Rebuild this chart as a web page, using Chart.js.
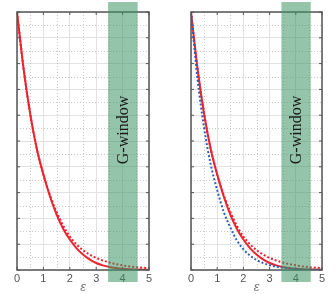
<!DOCTYPE html>
<html>
<head>
<meta charset="utf-8">
<script src="https://cdn.jsdelivr.net/npm/chart.js@4"></script>
<style>
  html, body { margin: 0; padding: 0; background: #fff; }
  #wrap { position: relative; width: 336px; height: 294px; overflow: hidden; }
  canvas { position: absolute; top: 0; }
</style>
</head>
<body>
<div id="wrap">
  <canvas id="leftChart" width="168" height="294" style="left:0"></canvas>
  <canvas id="rightChart" width="168" height="294" style="left:168px"></canvas>
</div>
<script>
// curves, x = epsilon
const eps        = [0, 0.25, 0.5, 0.75, 1, 1.25, 1.5, 1.75, 2, 2.25, 2.5, 2.75, 3, 3.25, 3.5, 3.75, 4, 4.25, 4.5, 4.75, 5];
const redSolid   = [1, 0.78, 0.605, 0.47, 0.37, 0.285, 0.215, 0.16, 0.118, 0.085, 0.06, 0.041, 0.027, 0.018, 0.012, 0.008, 0.005, 0.003, 0.002, 0.001, 0.001];
const redDotted  = [1, 0.78, 0.605, 0.47, 0.37, 0.29, 0.225, 0.172, 0.13, 0.1, 0.077, 0.06, 0.047, 0.037, 0.029, 0.023, 0.018, 0.014, 0.011, 0.009, 0.007];
const blueDotted = [1, 0.74, 0.55, 0.41, 0.31, 0.225, 0.165, 0.115, 0.08, 0.056, 0.039, 0.027, 0.019, 0.013, 0.009, 0.006, 0.004, 0.003, 0.002, 0.001, 0.001];

// shaded window
const bandStart = 3.45;
const bandEnd = 4.57;
const bandLabel = "G-window";
const xTitle = "ε";

Chart.defaults.font.family = "'Liberation Sans', Arial, sans-serif";

const RED = "rgb(236, 36, 48)";
const BLUE = "rgb(44, 96, 184)";

function toPoints(ys) {
  return eps.map((x, i) => ({ x: x, y: ys[i] }));
}

// minor dotted grid, green window, frame with inward ticks
const decorPlugin = {
  id: "decor",
  beforeDatasetsDraw(chart) {
    const ctx = chart.ctx;
    const a = chart.chartArea;
    const xs = chart.scales.x, ys = chart.scales.y;
    ctx.save();
    ctx.strokeStyle = "#cacaca";
    ctx.lineWidth = 1;
    ctx.setLineDash([1, 2]);
    for (let v = 0.5; v < 5; v += 1) {
      const px = Math.round(xs.getPixelForValue(v)) + 0.5;
      ctx.beginPath(); ctx.moveTo(px, a.top); ctx.lineTo(px, a.bottom); ctx.stroke();
    }
    for (let v = 0.05; v < 1; v += 0.1) {
      const py = Math.round(ys.getPixelForValue(v)) + 0.5;
      ctx.beginPath(); ctx.moveTo(a.left, py); ctx.lineTo(a.right, py); ctx.stroke();
    }
    ctx.restore();
  },
  afterDatasetsDraw(chart) {
    const ctx = chart.ctx;
    const a = chart.chartArea;
    const xs = chart.scales.x, ys = chart.scales.y;
    ctx.save();
    // frame
    ctx.strokeStyle = "#555";
    ctx.lineWidth = 1.5;
    ctx.strokeRect(a.left, a.top, a.right - a.left, a.bottom - a.top);
    // inward ticks
    ctx.lineWidth = 1;
    for (let v = 0; v <= 5; v++) {
      const px = xs.getPixelForValue(v);
      ctx.beginPath();
      ctx.moveTo(px, a.bottom); ctx.lineTo(px, a.bottom - 3);
      ctx.moveTo(px, a.top); ctx.lineTo(px, a.top + 3);
      ctx.stroke();
    }
    for (let v = 0; v <= 10; v++) {
      const py = ys.getPixelForValue(v / 10);
      ctx.beginPath();
      ctx.moveTo(a.left, py); ctx.lineTo(a.left + 3, py);
      ctx.moveTo(a.right, py); ctx.lineTo(a.right - 3, py);
      ctx.stroke();
    }
    // window
    const x0 = xs.getPixelForValue(bandStart);
    const x1 = xs.getPixelForValue(bandEnd);
    ctx.fillStyle = "rgba(60, 150, 100, 0.55)";
    ctx.fillRect(x0, 2, x1 - x0, 280);
    ctx.translate((x0 + x1) / 2 + 0.5, 130);
    ctx.rotate(-Math.PI / 2);
    ctx.fillStyle = "#1a1a1a";
    ctx.font = "16px 'Liberation Serif', 'Times New Roman', serif";
    ctx.textAlign = "center";
    ctx.textBaseline = "middle";
    ctx.fillText(bandLabel, 0, 0);
    ctx.restore();
  }
};

function makeChart(id, datasets, padLeft, padRight) {
  return new Chart(document.getElementById(id).getContext("2d"), {
    type: "line",
    data: { datasets: datasets },
    options: {
      responsive: false,
      animation: false,
      events: [],
      layout: { padding: { left: padLeft, right: padRight, top: 12, bottom: 0 } },
      plugins: { legend: { display: false }, tooltip: { enabled: false } },
      elements: { point: { radius: 0 }, line: { cubicInterpolationMode: "monotone" } },
      scales: {
        x: {
          type: "linear",
          min: 0,
          max: 5,
          ticks: { stepSize: 1, color: "#555", font: { size: 11 }, padding: 2, maxRotation: 0 },
          grid: { color: "#e2e2e2", drawTicks: false },
          border: { display: false },
          title: { display: true, text: xTitle, color: "#777", font: { size: 13, style: "italic", lineHeight: 1 }, padding: 0 },
          afterFit(scale) { scale.height = 24; }
        },
        y: {
          min: 0,
          max: 1,
          ticks: { stepSize: 0.1, display: false },
          grid: { color: "#e2e2e2", drawTicks: false },
          border: { display: false },
          afterFit(scale) { scale.width = 0; }
        }
      }
    },
    plugins: [decorPlugin]
  });
}

const solidRed = () => ({ data: toPoints(redSolid), borderColor: RED, borderWidth: 2 });
const dotRed = () => ({ data: toPoints(redDotted), borderColor: RED, borderWidth: 2, borderDash: [2, 2] });
const dotBlue = () => ({ data: toPoints(blueDotted), borderColor: BLUE, borderWidth: 2, borderDash: [2, 2] });

makeChart("leftChart", [dotRed(), solidRed()], 17, 19);
makeChart("rightChart", [dotBlue(), dotRed(), solidRed()], 23, 14);
</script>
</body>
</html>
